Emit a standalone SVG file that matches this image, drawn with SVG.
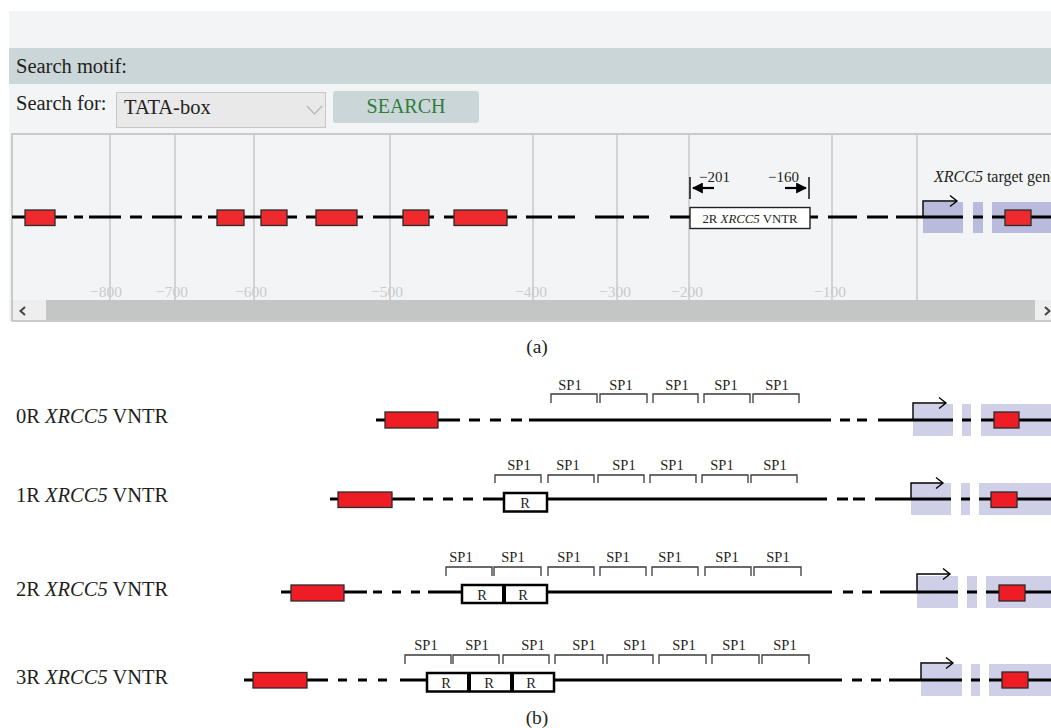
<svg xmlns="http://www.w3.org/2000/svg" width="1051" height="728" viewBox="0 0 1051 728">
  <defs>
    <style>
      .serif { font-family: "Liberation Serif", "DejaVu Serif", serif; fill: #231f20; }
      .track { stroke: #000; stroke-width: 3; fill: none; }
      .grid { stroke: #c9c9c9; stroke-width: 1.5; }
      .tick { font-family: "Liberation Serif", serif; font-size: 15.5px; fill: #c9cbcd; text-anchor: middle; }
      .exon { fill: #ee2a2e; stroke: #2b2b2b; stroke-width: 1.3; }
      .exon2 { fill: #ee1c24; stroke: #2b2b2b; stroke-width: 1.3; }
      .shade { fill: #b8bbdb; }
      .shade2 { fill: #cfcfe8; }
      .tss { stroke: #000; stroke-width: 1.4; fill: none; }
      .brk { stroke: #3a3a3a; stroke-width: 1.3; fill: none; }
      .sp1 { font-family: "Liberation Serif", serif; font-size: 14.5px; fill: #231f20; text-anchor: middle; }
      .rbox { fill: #fff; stroke: #000; stroke-width: 2.5; }
      .rlab { font-family: "Liberation Serif", serif; font-size: 14.5px; fill: #231f20; text-anchor: middle; }
      .row { font-family: "Liberation Serif", serif; font-size: 20.5px; fill: #231f20; }
    </style>
    <marker id="head" viewBox="0 0 10 10" refX="9" refY="5" markerWidth="5" markerHeight="5" orient="auto">
      <path d="M0 0 L10 5 L0 10 Z" fill="#000"/>
    </marker>
  </defs>

  <rect width="1051" height="728" fill="#fff"/>

  <!-- (a) motif search widget -->
  <g id="panel-a">
    <rect x="9" y="11" width="1042" height="310" fill="#f3f4f6"/>
    <rect x="9" y="48" width="1042" height="36" fill="#cbd6d8"/>
    <text class="serif" x="16" y="73" font-size="20.5">Search motif:</text>
    <text class="serif" x="16" y="110" font-size="20.5">Search for:</text>
    <g id="dropdown">
      <rect x="116.5" y="92.5" width="209" height="35" fill="#e9e9e9" stroke="#c8c8c8"/>
      <text class="serif" x="124" y="114" font-size="20.5">TATA-box</text>
      <path d="M307 106 L314.5 114 L322 106" fill="none" stroke="#b9b9b9" stroke-width="1.3"/>
    </g>
    <g id="search-button">
      <rect x="333" y="91" width="146" height="32" rx="3" fill="#cbd6d8"/>
      <text x="406" y="113" font-family="Liberation Serif, serif" font-size="20" fill="#2f7d3b" text-anchor="middle">SEARCH</text>
    </g>

    <!-- track viewport -->
    <rect x="12" y="134" width="1045" height="187" fill="#f3f4f6" stroke="#bcbcbc" stroke-width="1.5"/>
    <g id="grid">
      <line class="grid" x1="110" y1="135" x2="110" y2="300"/>
      <line class="grid" x1="175" y1="135" x2="175" y2="300"/>
      <line class="grid" x1="254" y1="135" x2="254" y2="300"/>
      <line class="grid" x1="390" y1="135" x2="390" y2="300"/>
      <line class="grid" x1="533" y1="135" x2="533" y2="300"/>
      <line class="grid" x1="617" y1="135" x2="617" y2="300"/>
      <line class="grid" x1="689" y1="135" x2="689" y2="300"/>
      <line class="grid" x1="832" y1="135" x2="832" y2="300"/>
      <line class="grid" x1="917" y1="135" x2="917" y2="300"/>
      <text class="tick" x="106" y="297">−800</text>
      <text class="tick" x="172" y="297">−700</text>
      <text class="tick" x="251" y="297">−600</text>
      <text class="tick" x="387" y="297">−500</text>
      <text class="tick" x="531" y="297">−400</text>
      <text class="tick" x="615" y="297">−300</text>
      <text class="tick" x="687" y="297">−200</text>
      <text class="tick" x="830" y="297">−100</text>
    </g>

    <g id="target-gene-a">
      <rect class="shade" x="923" y="202" width="40" height="31"/>
      <rect class="shade" x="973" y="202" width="10" height="31"/>
      <rect class="shade" x="992" y="202" width="59" height="31"/>
    </g>

    <path class="track" d="M12 217H25 M55 217H67 M74 217H83 M89 217H121 M130 217H142 M152 217H182 M192 217H202 M208 217H217 M244 217H261 M287 217H297 M306 217H316 M357 217H363 M373 217H403 M429 217H434 M444 217H454 M507 217H517 M526 217H552 M558 217H575 M595 217H624 M633 217H649 M670 217H690 M810 217H818 M828 217H857 M867 217H888 M896 217H963 M973 217H983 M992 217H1051"/>

    <g id="exons-a">
      <rect class="exon" x="25" y="210" width="30" height="15.5"/>
      <rect class="exon" x="217" y="210" width="27" height="15.5"/>
      <rect class="exon" x="261" y="210" width="26" height="15.5"/>
      <rect class="exon" x="316" y="210" width="41" height="15.5"/>
      <rect class="exon" x="403" y="210" width="26" height="15.5"/>
      <rect class="exon" x="454" y="210" width="53" height="15.5"/>
      <rect class="exon" x="1005" y="210" width="26" height="15.5"/>
    </g>

    <g id="vntr-a">
      <rect x="690" y="207.5" width="120" height="21" fill="#fff" stroke="#222" stroke-width="1.4"/>
      <text class="serif" x="750" y="223" font-size="12.8" text-anchor="middle">2R <tspan font-style="italic">XRCC5</tspan> VNTR</text>
      <line x1="690" y1="177" x2="690" y2="199" stroke="#000" stroke-width="1.4"/>
      <line x1="809" y1="177" x2="809" y2="199" stroke="#000" stroke-width="1.4"/>
      <line x1="714" y1="188" x2="693" y2="188" stroke="#000" stroke-width="2.2" marker-end="url(#head)"/>
      <line x1="785" y1="188" x2="806" y2="188" stroke="#000" stroke-width="2.2" marker-end="url(#head)"/>
      <text class="serif" x="699" y="182" font-size="15">−201</text>
      <text class="serif" x="768" y="182" font-size="15">−160</text>
    </g>

    <g id="tss-a">
      <path class="tss" d="M923 217V201H957"/>
      <path class="tss" d="M950 195.5L957 201L950 206.5"/>
      <text class="serif" x="934" y="182" font-size="16"><tspan font-style="italic">XRCC5</tspan> target gene</text>
    </g>

    <g id="scrollbar">
      <rect x="12" y="300" width="1039" height="20" fill="#c4c6c5"/>
      <rect x="13" y="300" width="33" height="20" fill="#eeeeee"/>
      <path d="M25 307L20.5 311L25 315" fill="none" stroke="#444" stroke-width="2"/>
      <rect x="1035" y="300" width="16" height="20" fill="#eeeeee"/>
      <path d="M1045 307L1049.5 311L1045 315" fill="none" stroke="#444" stroke-width="2"/>
    </g>
  </g>

  <text class="serif" x="537" y="353" font-size="19.5" text-anchor="middle">(a)</text>

  <!-- (b) VNTR alleles -->
  <g id="row-0R">
    <text class="row" x="16" y="423">0R <tspan font-style="italic">XRCC5</tspan> VNTR</text>
    <rect class="shade2" x="913" y="404" width="40" height="32"/>
    <rect class="shade2" x="962" y="404" width="9" height="32"/>
    <rect class="shade2" x="981" y="404" width="70" height="32"/>
    <path class="track" d="M376 420H385 M438 420H460 M469 420H480 M490 420H501 M511 420H522 M529 420H831 M840 420H850 M857 420H867 M878 420H953 M962 420H971 M981 420H1051"/>
    <rect class="exon2" x="385" y="412" width="53" height="16"/>
    <rect class="exon2" x="994" y="412" width="25" height="16"/>
    <path class="tss" d="M913 420V403H946"/>
    <path class="tss" d="M939 397.5L946 403L939 408.5"/>
    <path class="brk" d="M551 403V394H597V403 M600 403V394H647V403 M653 403V394H698V403 M704 403V394H750V403 M753 403V394H799V403"/>
    <text class="sp1" x="570" y="390">SP1</text>
    <text class="sp1" x="621" y="390">SP1</text>
    <text class="sp1" x="677" y="390">SP1</text>
    <text class="sp1" x="726" y="390">SP1</text>
    <text class="sp1" x="777" y="390">SP1</text>
  </g>

  <g id="row-1R">
    <text class="row" x="16" y="502">1R <tspan font-style="italic">XRCC5</tspan> VNTR</text>
    <rect class="shade2" x="911" y="483" width="40" height="32"/>
    <rect class="shade2" x="961" y="483" width="9" height="32"/>
    <rect class="shade2" x="979" y="483" width="72" height="32"/>
    <path class="track" d="M330 499H338 M392 499H415 M423 499H433 M443 499H453 M463 499H473 M483 499H504 M547 499H827 M837 499H848 M853 499H865 M875 499H951 M961 499H970 M979 499H1051"/>
    <rect class="exon2" x="338" y="492" width="54" height="15.5"/>
    <rect class="exon2" x="991" y="492" width="26" height="15.5"/>
    <rect class="rbox" x="504" y="493" width="43" height="18.5"/>
    <text class="rlab" x="525" y="508">R</text>
    <path class="tss" d="M911 499V483H943"/>
    <path class="tss" d="M936 477.5L943 483L936 488.5"/>
    <path class="brk" d="M495 483V475H541V483 M548 483V475H594V483 M598 483V475H644V483 M650 483V475H696V483 M702 483V475H748V483 M751 483V475H797V483"/>
    <text class="sp1" x="519" y="470">SP1</text>
    <text class="sp1" x="568" y="470">SP1</text>
    <text class="sp1" x="624" y="470">SP1</text>
    <text class="sp1" x="672" y="470">SP1</text>
    <text class="sp1" x="722" y="470">SP1</text>
    <text class="sp1" x="775" y="470">SP1</text>
  </g>

  <g id="row-2R">
    <text class="row" x="16" y="596">2R <tspan font-style="italic">XRCC5</tspan> VNTR</text>
    <rect class="shade2" x="917" y="576" width="41" height="32"/>
    <rect class="shade2" x="967" y="576" width="10" height="32"/>
    <rect class="shade2" x="986" y="576" width="65" height="32"/>
    <path class="track" d="M281 592H291 M344 592H367 M373 592H382 M392 592H401 M411 592H420 M428 592H462 M547 592H832 M843 592H853 M862 592H872 M880 592H958 M967 592H977 M986 592H1051"/>
    <rect class="exon2" x="291" y="585" width="53" height="16"/>
    <rect class="exon2" x="999" y="585" width="26" height="16"/>
    <rect class="rbox" x="462" y="585" width="85" height="18"/>
    <rect x="502" y="585" width="4" height="18" fill="#000"/>
    <text class="rlab" x="482" y="600">R</text>
    <text class="rlab" x="523" y="600">R</text>
    <path class="tss" d="M917 592V574H950"/>
    <path class="tss" d="M943 568.5L950 574L943 579.5"/>
    <path class="brk" d="M446 576V567H492V576 M494 576V567H541V576 M548 576V567H594V576 M600 576V567H646V576 M652 576V567H698V576 M705 576V567H751V576 M754 576V567H801V576"/>
    <text class="sp1" x="461" y="562">SP1</text>
    <text class="sp1" x="513" y="562">SP1</text>
    <text class="sp1" x="569" y="562">SP1</text>
    <text class="sp1" x="618" y="562">SP1</text>
    <text class="sp1" x="670" y="562">SP1</text>
    <text class="sp1" x="727" y="562">SP1</text>
    <text class="sp1" x="778" y="562">SP1</text>
  </g>

  <g id="row-3R">
    <text class="row" x="16" y="684">3R <tspan font-style="italic">XRCC5</tspan> VNTR</text>
    <rect class="shade2" x="921" y="664" width="41" height="32"/>
    <rect class="shade2" x="971" y="664" width="9" height="32"/>
    <rect class="shade2" x="989" y="664" width="62" height="32"/>
    <path class="track" d="M244 680H253 M307 680H328 M338 680H347 M358 680H367 M378 680H387 M400 680H427 M554 680H842 M852 680H862 M871 680H881 M889 680H962 M971 680H980 M989 680H1051"/>
    <rect class="exon2" x="253" y="672.5" width="54" height="15.5"/>
    <rect class="exon2" x="1002" y="672" width="26" height="16"/>
    <rect class="rbox" x="427" y="673" width="127" height="18.5"/>
    <rect x="467" y="673" width="4" height="18.5" fill="#000"/>
    <rect x="510" y="673" width="4" height="18.5" fill="#000"/>
    <text class="rlab" x="446" y="688">R</text>
    <text class="rlab" x="489" y="688">R</text>
    <text class="rlab" x="531" y="688">R</text>
    <path class="tss" d="M921 680V663H953"/>
    <path class="tss" d="M946 657.5L953 663L946 668.5"/>
    <path class="brk" d="M405 664V655H451V664 M453 664V655H499V664 M503 664V655H549V664 M555 664V655H603V664 M607 664V655H653V664 M659 664V655H706V664 M712 664V655H759V664 M762 664V655H809V664"/>
    <text class="sp1" x="426" y="650">SP1</text>
    <text class="sp1" x="477" y="650">SP1</text>
    <text class="sp1" x="533" y="650">SP1</text>
    <text class="sp1" x="584" y="650">SP1</text>
    <text class="sp1" x="635" y="650">SP1</text>
    <text class="sp1" x="684" y="650">SP1</text>
    <text class="sp1" x="734" y="650">SP1</text>
    <text class="sp1" x="785" y="650">SP1</text>
  </g>

  <text class="serif" x="537" y="724" font-size="19.5" text-anchor="middle">(b)</text>
</svg>
